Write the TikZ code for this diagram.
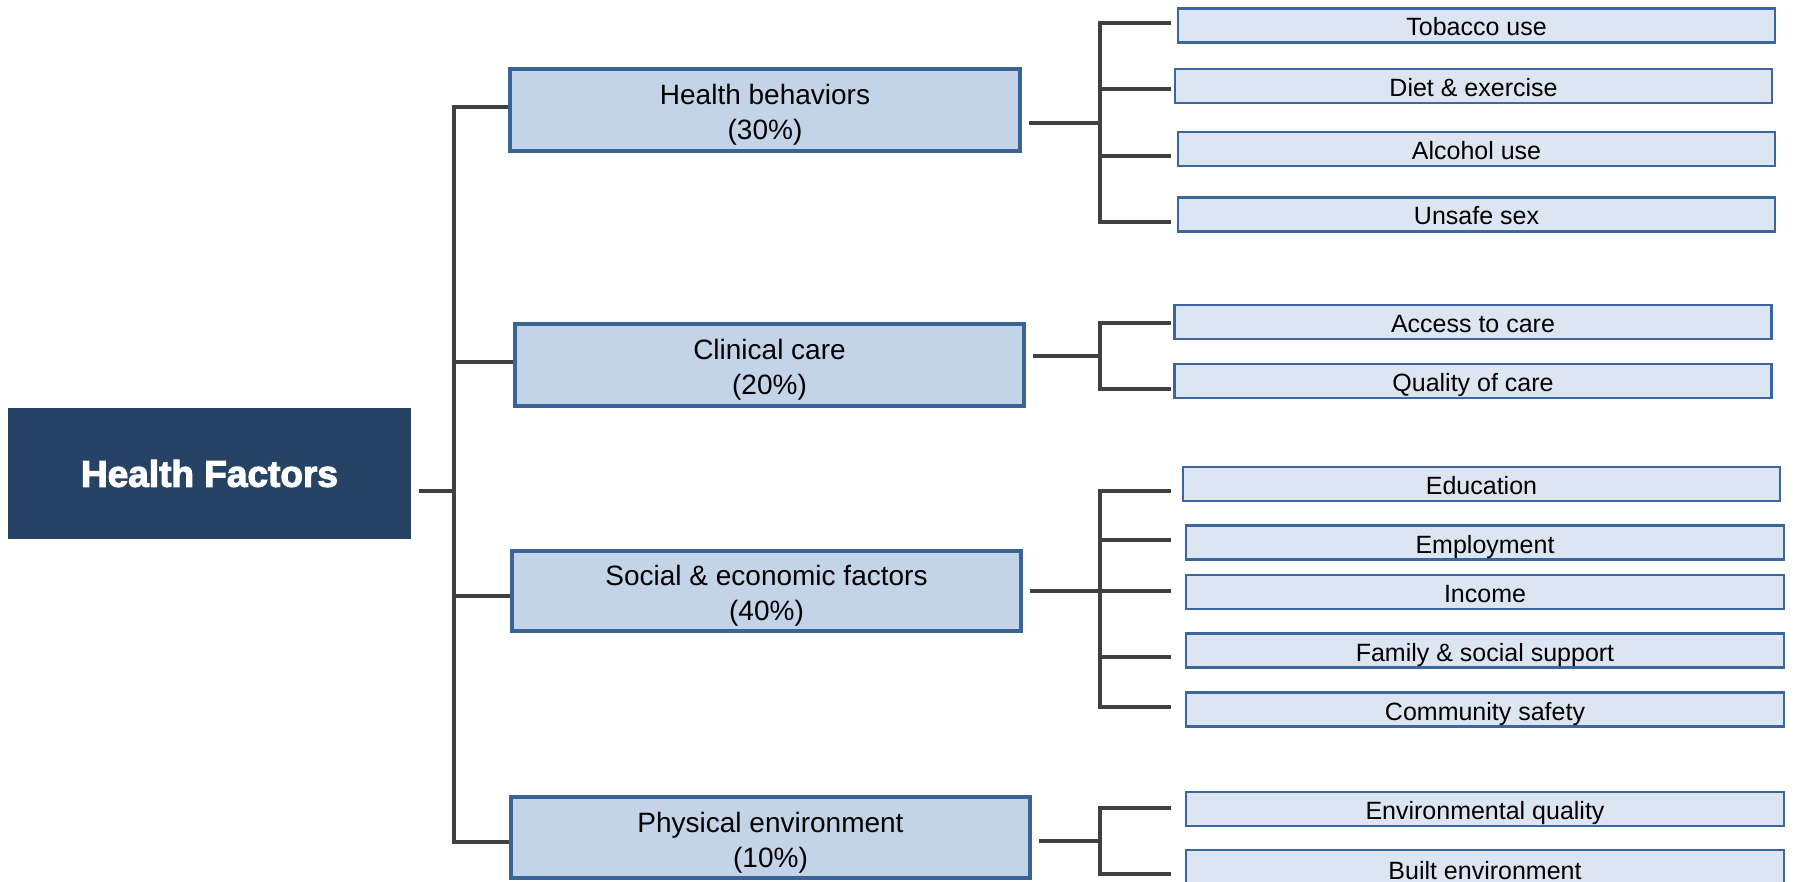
\documentclass[tikz,border=0pt]{standalone}
\usepackage{fontspec}
\setmainfont{Liberation Sans}
\newfontfamily\heavyfont{Liberation Sans}[BoldFeatures={FakeBold=3}]
\definecolor{navy}{HTML}{264264}
\definecolor{midfill}{HTML}{C3D4E9}
\definecolor{midline}{HTML}{3A6396}
\definecolor{subfill}{HTML}{DCE6F2}
\definecolor{subline}{HTML}{3D66A0}
\definecolor{connc}{HTML}{404040}
\begin{document}
\begin{tikzpicture}[x=1pt,y=-1pt,
  mainbox/.style={fill=navy,text=white,inner sep=0pt,minimum width=403pt,minimum height=131pt,font=\fontsize{37}{40}\selectfont\heavyfont\bfseries},
  midbox/.style={fill=midfill,draw=midline,line width=4pt,inner sep=0pt,minimum height=82pt},
  mtext/.style={align=center,inner sep=0pt,yshift=-5pt,font=\fontsize{28}{35}\selectfont},
  subbox/.style={fill=subfill,draw=subline,line width=2.7pt,inner sep=0pt,minimum width=597pt,minimum height=34pt,text height=21pt,text depth=0pt,font=\fontsize{25}{30}\selectfont},
  conn/.style={draw=connc,line width=3.5pt}]
\useasboundingbox (0,0) rectangle (1795,882);
\begin{scope}
\clip (0,0) rectangle (1795,882);
% main
\node[mainbox] (hf) at (209.5,473.5) {Health Factors};
% mid boxes
\node[midbox,minimum width=510pt,label={[mtext]center:Health behaviors\\(30\%)}] (hb) at (765,110) {};
\node[midbox,minimum width=509pt,label={[mtext]center:Clinical care\\(20\%)}] (cc) at (769.5,365) {};
\node[midbox,minimum width=509pt,minimum height=80pt,label={[mtext]center:Social \& economic factors\\(40\%)}] (se) at (766.5,591) {};
\node[midbox,minimum width=519pt,minimum height=81pt,label={[mtext]center:Physical environment\\(10\%)}] (pe) at (770.5,837.5) {};
% sub boxes
\node[subbox] (tob) at (1476.5,25.5) {Tobacco use};
\node[subbox] (diet) at (1473.5,86) {Diet \& exercise};
\node[subbox] (alc) at (1476.5,149) {Alcohol use};
\node[subbox] (uns) at (1476.5,214.5) {Unsafe sex};
\node[subbox] (acc) at (1473,322) {Access to care};
\node[subbox] (qual) at (1473,381) {Quality of care};
\node[subbox] (edu) at (1481.5,484) {Education};
\node[subbox,minimum width=598pt] (emp) at (1485,542.5) {Employment};
\node[subbox,minimum width=598pt] (inc) at (1485,592) {Income};
\node[subbox,minimum width=598pt] (fam) at (1485,650.5) {Family \& social support};
\node[subbox,minimum width=598pt] (com) at (1485,709.5) {Community safety};
\node[subbox,minimum width=598pt] (env) at (1485,809) {Environmental quality};
\node[subbox,minimum width=598pt,minimum height=38pt] (built) at (1485,869) {Built environment};
% trunk
\coordinate (t0) at (454,491);
\coordinate (t1) at (454,107);
\coordinate (t2) at (454,362);
\coordinate (t3) at (454,596);
\coordinate (t4) at (454,842);
\draw[conn] ([xshift=8pt]hf.east |- t0) -- (t0);
\draw[conn] (t1 -| hb.west) -- (t1) -- (t4) -- (t4 -| pe.west);
\draw[conn] (t2) -- (t2 -| cc.west);
\draw[conn] (t3) -- (t3 -| se.west);
% branch end x
\coordinate (bx) at (1171,0);
% health behaviors
\coordinate (hbj) at (1100,123);
\coordinate (hb1) at (1100,23);
\coordinate (hb2) at (1100,89);
\coordinate (hb3) at (1100,156);
\coordinate (hb4) at (1100,222);
\draw[conn] ([xshift=7pt]hb.east |- hbj) -- (hbj);
\draw[conn] (hb1 -| bx) -- (hb1) -- (hb4) -- (hb4 -| bx);
\draw[conn] (hb2) -- (hb2 -| bx);
\draw[conn] (hb3) -- (hb3 -| bx);
% clinical care
\coordinate (ccj) at (1100,356);
\coordinate (cc1) at (1100,323);
\coordinate (cc2) at (1100,389);
\draw[conn] ([xshift=7pt]cc.east |- ccj) -- (ccj);
\draw[conn] (cc1 -| bx) -- (cc1) -- (cc2) -- (cc2 -| bx);
% social
\coordinate (sej) at (1100,591);
\coordinate (se1) at (1100,491);
\coordinate (se2) at (1100,540);
\coordinate (se4) at (1100,657);
\coordinate (se5) at (1100,707);
\draw[conn] ([xshift=7pt]se.east |- sej) -- (sej -| bx);
\draw[conn] (se1 -| bx) -- (se1) -- (se5) -- (se5 -| bx);
\draw[conn] (se2) -- (se2 -| bx);
\draw[conn] (se4) -- (se4 -| bx);
% physical
\coordinate (pej) at (1100,841);
\coordinate (pe1) at (1100,808);
\coordinate (pe2) at (1100,874);
\draw[conn] ([xshift=7pt]pe.east |- pej) -- (pej);
\draw[conn] (pe1 -| bx) -- (pe1) -- (pe2) -- (pe2 -| bx);
\end{scope}
\end{tikzpicture}
\end{document}
